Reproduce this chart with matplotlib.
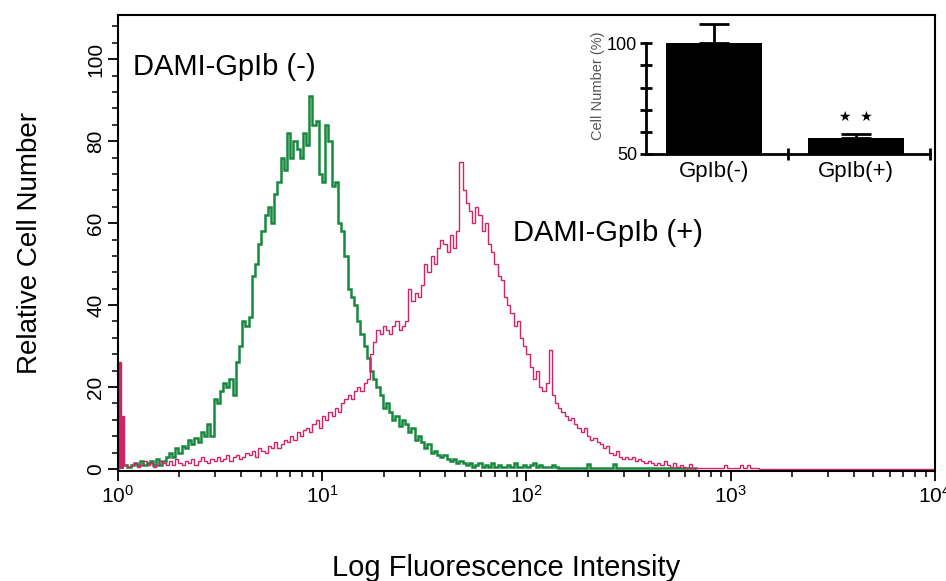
import numpy as np
import matplotlib.pyplot as plt
from matplotlib.ticker import MultipleLocator, FixedLocator, NullFormatter, FuncFormatter

# flow cytometry histogram, 256 log channels over 4 decades
n_channels = 256
decades = 4

# DAMI-GpIb (-)  (green), channels 0..180
green = [
    0.5, 1, 1, 0.5, 1, 1.5, 1, 2, 1, 1.5, 2, 1, 2.5, 1, 2, 3,
    4, 3, 5, 4, 5.5, 5, 7, 6, 7.5, 6.5, 9, 8, 11, 8, 17, 16,
    19, 21, 20, 22, 18, 26, 30, 36, 35, 37, 47, 50, 55, 58, 62, 64,
    60, 67, 70, 76, 73, 82, 76, 80, 78, 76, 82, 79, 91, 84, 85, 72,
    70, 84, 80, 69, 70, 60, 58, 52, 44, 42, 40, 36, 33, 30, 27, 24,
    22, 20, 18, 15, 16, 14, 12, 13, 10.5, 12, 11, 9, 10, 7, 8, 6.5,
    5, 6, 4, 4.5, 3.5, 3, 3.5, 2.5, 2, 2.5, 1.5, 2, 1.5, 1, 1.5, 0.5,
    1, 1.5, 0.5, 1, 0.5, 1.5, 0.5, 1, 0.5, 0.5, 1, 0.5, 1.5, 0.5, 0.5, 1,
    0.5, 1, 1.5, 0.5, 1, 0.5, 0.5, 0.5, 1, 0.5, 0.3, 0.3, 0.3, 0.3, 0.3, 0.3,
    0.3, 0.3, 0.3, 1.2, 0.3, 0.3, 0.3, 0.3, 0.3, 0.3, 0.3, 1.2, 0.3, 0.3, 0.3, 0.3,
    0.3, 0.3, 0.3, 0.3, 0.3, 0.3, 0.3, 0.3, 0.3, 0.3, 0.3, 0.3, 0.3, 0.3, 0.3, 0.3,
    0.3, 0.3, 0.3, 0.3, 0.3,
]

# DAMI-GpIb (+)  (magenta), channels 0..255
magenta = [
    26, 13, 1, 0.5, 1, 1.5, 0.5, 1, 2, 1, 1.5, 0.5, 1, 2, 1.5, 1,
    2, 1, 2.5, 1.5, 1, 2, 1.5, 2.5, 1, 2, 3, 2, 1.5, 2.5, 2, 3,
    2, 2.5, 3.5, 2, 3, 3.5, 2.5, 3, 4, 3.5, 4.5, 3, 5, 4.5, 4, 5.5,
    5, 6.5, 5, 6, 7, 6.5, 8, 7, 9, 8, 9.5, 10, 9, 11, 12, 10,
    13, 12, 14, 13, 15, 14, 16, 17, 18, 17, 19, 20, 19, 21, 22, 28,
    31, 34, 33, 35, 34, 33, 35, 36, 34, 35, 36, 44, 41, 43, 42, 45,
    50, 48, 52, 50, 54, 56, 55, 53, 57, 54, 58, 75, 68, 65, 63, 60,
    64, 62, 58, 60, 55, 53, 50, 47, 46, 42, 40, 38, 35, 36, 32, 30,
    28, 25, 22, 24, 20, 19, 21, 29, 18, 16, 15, 14, 13, 12, 12.5, 11,
    10, 9, 10, 8, 7, 7.5, 6.5, 6, 5, 5.5, 4, 3.5, 4.5, 3, 2.5, 3,
    2.5, 3, 2, 2.5, 2, 1.5, 2, 1.5, 1, 1.5, 1, 2, 1, 0.5, 1.5, 0.5,
    1, 0.5, 0.3, 1.2, 0.3, 0.3, 0.3, 0.3, 0.3, 0.3, 0.3, 0.3, 0.3, 0.3, 1, 0.3,
    0.3, 0.3, 0.3, 1, 0.3, 1, 0.3, 0.3, 0.3, 0, 0, 0, 0, 0, 0, 0,
] + [0] * 48

# inset bar chart
categories = ['GpIb(-)', 'GpIb(+)']
cell_pct = [100, 57]
cell_err = [8.7, 2.0]

plt.rcParams['font.family'] = ['Liberation Sans', 'DejaVu Sans']

green_col = '#17893d'
mag_col = '#d4226a'

fig = plt.figure(figsize=(9.46, 5.81), dpi=100)
ax = fig.add_axes([0.1245, 0.1893, 0.8638, 0.7849])

edges = 10 ** (np.arange(n_channels + 1) / (n_channels / decades))
ax.stairs(green, edges[:len(green) + 1], color=green_col, lw=1.8)
ax.stairs(magenta, edges, color=mag_col, lw=1.0)
# the first two channels look like a solid block in the original
ax.stairs(magenta[:2], edges[:3], color=mag_col, lw=0, fill=True)

ax.set_xscale('log')
ax.set_xlim(1, 10 ** decades)
ax.set_ylim(-0.5, 110.8)

ax.yaxis.set_major_locator(FixedLocator([0, 20, 40, 60, 80, 100]))
ax.yaxis.set_minor_locator(MultipleLocator(4))
ax.xaxis.set_major_formatter(FuncFormatter(lambda v, p: r'$\mathregular{10^{%d}}$' % round(np.log10(v))))
ax.xaxis.set_minor_formatter(NullFormatter())

ax.tick_params(axis='both', which='major', direction='out', length=7, width=1.3)
ax.tick_params(axis='both', which='minor', direction='out', length=4, width=1.1)
ax.tick_params(axis='y', labelrotation=90, pad=2, labelsize=15)
ax.tick_params(axis='x', pad=3, labelsize=15)
for lab in ax.get_yticklabels():
    lab.set_va('center')
for s in ax.spines.values():
    s.set_linewidth(1.5)

ax.set_xlabel('Log Fluorescence Intensity', fontsize=21)
ax.set_ylabel('Relative Cell Number', fontsize=20)
ax.xaxis.set_label_coords(0.475, -0.182)
ax.yaxis.set_label_coords(-0.092, 0.5)

ax.text(1.187, 98, 'DAMI-GpIb (-)', fontsize=21, va='center', ha='left')
ax.text(86, 57.6, 'DAMI-GpIb (+)', fontsize=21, va='center', ha='left')

# inset
ins = fig.add_axes([646 / 946, 1 - 154 / 581, 284 / 946, (154 - 16.7) / 581])
ins.patch.set_alpha(0)
xpos = np.arange(len(categories))
ins.bar(xpos, cell_pct, width=0.68, color='black',
        yerr=[[0] * len(cell_err), cell_err], capsize=11,
        error_kw=dict(lw=2, capthick=2, ecolor='black'))
ins.set_xlim(-0.48, 1.52)
ins.set_ylim(50, 112)
ins.spines['top'].set_visible(False)
ins.spines['right'].set_visible(False)
ins.spines['left'].set_bounds(50, 100)
ins.spines['left'].set_linewidth(2)
ins.spines['bottom'].set_linewidth(2)
ins.set_yticks([50, 60, 70, 80, 90, 100])
ins.set_yticklabels(['50', '', '', '', '', '100'], fontsize=13)
ins.set_xticks([0.52, 1.52])
ins.set_xticklabels(['', ''])
ins.set_xticks(xpos, minor=True)
ins.set_xticklabels(categories, minor=True, fontsize=16)
ins.tick_params(axis='both', which='major', direction='inout', length=9, width=2, pad=2)
ins.tick_params(axis='x', which='minor', length=0, pad=5)
ins.set_ylabel('Cell Number (%)', fontsize=10.5, color='#555555', labelpad=1)
ins.text(1, 66.7, '\u2605  \u2605', fontsize=10, ha='center', va='center',
         family=['DejaVu Sans'])

fig.savefig('out.png', dpi=100)
